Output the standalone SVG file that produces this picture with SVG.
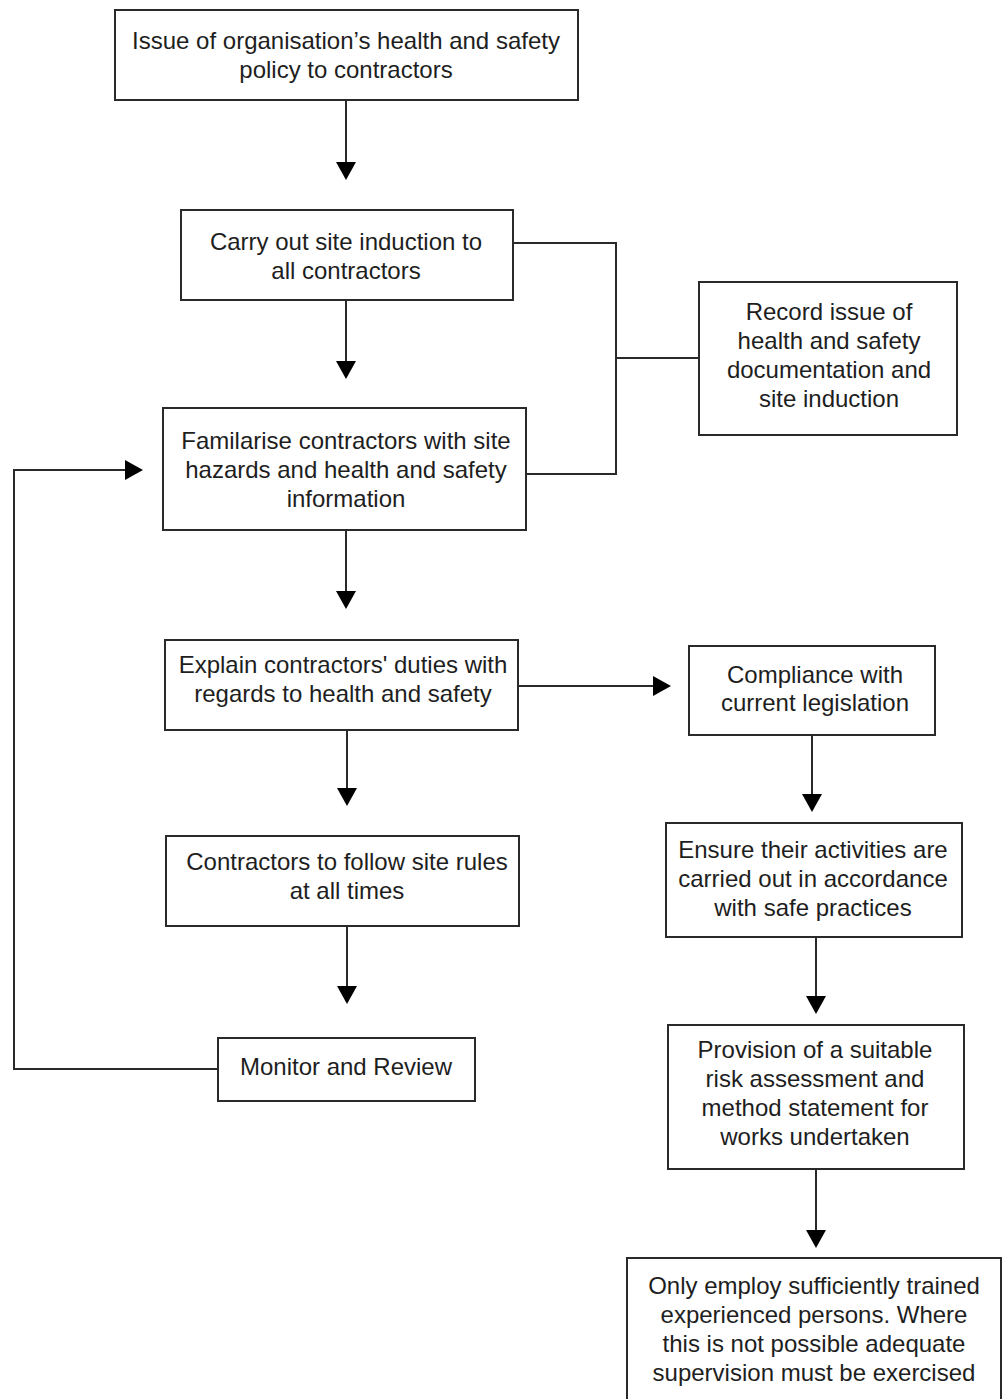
<svg xmlns="http://www.w3.org/2000/svg" width="1003" height="1399" viewBox="0 0 1003 1399">
<style>
.box{fill:#fff;stroke:#2a2a2a;stroke-width:2}
.t{font-family:"Liberation Sans",Arial,sans-serif;font-size:24px;fill:#1e1e1e;text-anchor:middle}
.c{fill:none;stroke:#2a2a2a;stroke-width:2}
</style>
<defs>
<marker id="ah" viewBox="0 0 18 20" refX="16" refY="10" markerWidth="18" markerHeight="20" markerUnits="userSpaceOnUse" orient="auto">
<path d="M0,0 L18,10 L0,20 Z" fill="#000"/>
</marker>
</defs>
<rect width="1003" height="1399" fill="#fff"/>
<g id="connectors">
<path class="c" d="M346,100 V178" marker-end="url(#ah)"/>
<path class="c" d="M346,300 V377" marker-end="url(#ah)"/>
<path class="c" d="M346,530 V607" marker-end="url(#ah)"/>
<path class="c" d="M347,730 V804" marker-end="url(#ah)"/>
<path class="c" d="M347,926 V1002" marker-end="url(#ah)"/>
<path class="c" d="M518,686 H669" marker-end="url(#ah)"/>
<path class="c" d="M812,735 V810" marker-end="url(#ah)"/>
<path class="c" d="M816,937 V1012" marker-end="url(#ah)"/>
<path class="c" d="M816,1169 V1246" marker-end="url(#ah)"/>
<path class="c" d="M218,1069 H14 V470 H141" marker-end="url(#ah)"/>
<path class="c" d="M513,243 H616 V474 H526"/>
<path class="c" d="M616,358 H699"/>
</g>
<g id="n1">
<rect class="box" x="115" y="10" width="463" height="90"/>
<text class="t" x="346" y="49">Issue of organisation’s health and safety</text>
<text class="t" x="346" y="78">policy to contractors</text>
</g>
<g id="n2">
<rect class="box" x="181" y="210" width="332" height="90"/>
<text class="t" x="346" y="250">Carry out site induction to</text>
<text class="t" x="346" y="279">all contractors</text>
</g>
<g id="n3">
<rect class="box" x="163" y="408" width="363" height="122"/>
<text class="t" x="346" y="449">Familarise contractors with site</text>
<text class="t" x="346" y="478">hazards and health and safety</text>
<text class="t" x="346" y="507">information</text>
</g>
<g id="n4">
<rect class="box" x="699" y="282" width="258" height="153"/>
<text class="t" x="829" y="320">Record issue of</text>
<text class="t" x="829" y="349">health and safety</text>
<text class="t" x="829" y="378">documentation and</text>
<text class="t" x="829" y="407">site induction</text>
</g>
<g id="n5">
<rect class="box" x="165" y="640" width="353" height="90"/>
<text class="t" x="343" y="673">Explain contractors' duties with</text>
<text class="t" x="343" y="702">regards to health and safety</text>
</g>
<g id="n6">
<rect class="box" x="689" y="646" width="246" height="89"/>
<text class="t" x="815" y="683">Compliance with</text>
<text class="t" x="815" y="711">current legislation</text>
</g>
<g id="n7">
<rect class="box" x="166" y="836" width="353" height="90"/>
<text class="t" x="347" y="870">Contractors to follow site rules</text>
<text class="t" x="347" y="899">at all times</text>
</g>
<g id="n8">
<rect class="box" x="218" y="1038" width="257" height="63"/>
<text class="t" x="346" y="1075">Monitor and Review</text>
</g>
<g id="n9">
<rect class="box" x="666" y="823" width="296" height="114"/>
<text class="t" x="813" y="858">Ensure their activities are</text>
<text class="t" x="813" y="887">carried out in accordance</text>
<text class="t" x="813" y="916">with safe practices</text>
</g>
<g id="n10">
<rect class="box" x="668" y="1025" width="296" height="144"/>
<text class="t" x="815" y="1058">Provision of a suitable</text>
<text class="t" x="815" y="1087">risk assessment and</text>
<text class="t" x="815" y="1116">method statement for</text>
<text class="t" x="815" y="1145">works undertaken</text>
</g>
<g id="n11">
<rect class="box" x="627" y="1258" width="374" height="150"/>
<text class="t" x="814" y="1294">Only employ sufficiently trained</text>
<text class="t" x="814" y="1323">experienced persons. Where</text>
<text class="t" x="814" y="1352">this is not possible adequate</text>
<text class="t" x="814" y="1381">supervision must be exercised</text>
</g>
</svg>
